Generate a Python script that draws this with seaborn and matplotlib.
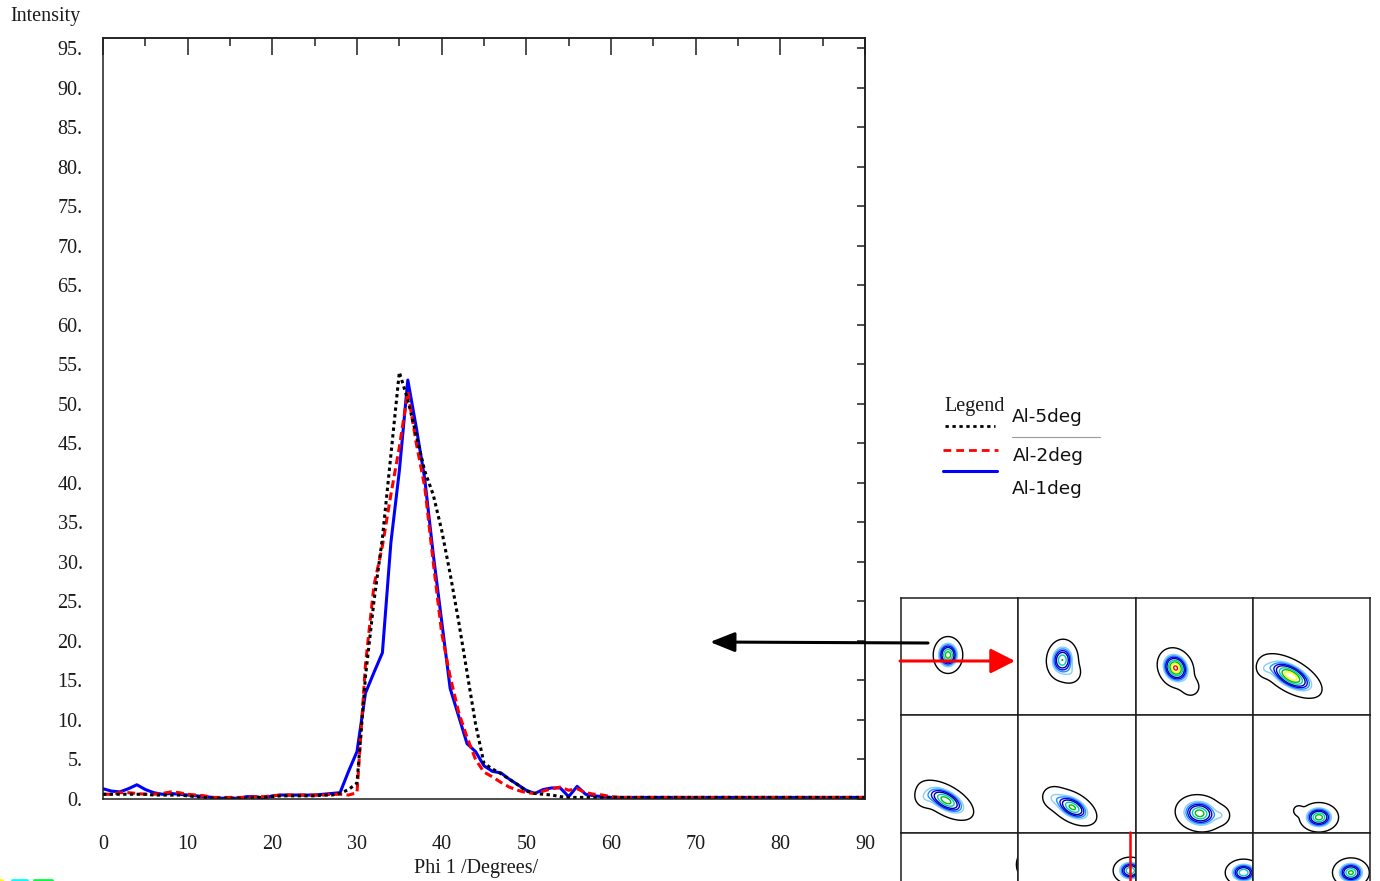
import numpy as np
import pandas as pd
import matplotlib
matplotlib.use("Agg")
import matplotlib.pyplot as plt
import seaborn as sns
from matplotlib.ticker import MultipleLocator, FuncFormatter

# ---- ODF line profile along Phi 1 -------------------------------------
phi1 = list(range(0, 91))

al_5deg = [0.6, 0.6, 0.6, 0.6, 0.6, 0.6, 0.5, 0.5, 0.5, 0.5,
           0.4, 0.3, 0.2, 0.1, 0.1, 0.1, 0.1, 0.1, 0.2, 0.2,
           0.3, 0.4, 0.4, 0.4, 0.4, 0.4, 0.5, 0.5, 0.7, 1.2,
           2.0, 15.5, 25.0, 33.0, 43.5, 54.0, 50.5, 46.0, 41.5, 38.5,
           34.0, 28.5, 22.5, 16.0, 9.5, 4.5, 3.8, 3.2, 2.5, 1.8,
           1.0, 0.7, 0.6, 0.5, 0.3, 0.2, 0.2, 0.2, 0.2, 0.2] + [0.2] * 31

al_2deg = [0.6, 0.6, 0.8, 0.8, 0.7, 0.6, 0.6, 0.7, 0.9, 0.8,
           0.6, 0.5, 0.4, 0.2, 0.2, 0.2, 0.2, 0.2, 0.3, 0.3,
           0.4, 0.5, 0.5, 0.5, 0.5, 0.5, 0.5, 0.6, 0.6, 0.5,
           0.8, 17.0, 27.0, 32.0, 38.5, 44.5, 51.5, 45.0, 39.5, 30.0,
           21.0, 15.5, 11.0, 7.8, 5.0, 3.4, 2.8, 2.1, 1.5, 1.1,
           0.8, 0.7, 1.0, 1.3, 1.5, 1.1, 1.3, 0.8, 0.6, 0.5,
           0.3] + [0.2] * 30

al_1deg = [1.3, 1.0, 0.9, 1.3, 1.8, 1.2, 0.8, 0.6, 0.7, 0.6,
           0.5, 0.4, 0.3, 0.2, 0.1, 0.1, 0.1, 0.3, 0.3, 0.1,
           0.4, 0.5, 0.5, 0.5, 0.5, 0.5, 0.6, 0.7, 0.8, 3.5,
           6.0, 13.4, 16.0, 18.5, 32.4, 41.5, 53.0, 47.0, 40.5, 31.0,
           22.5, 14.0, 10.5, 7.0, 6.0, 4.2, 3.5, 3.3, 2.5, 1.8,
           1.1, 0.7, 1.2, 1.4, 1.4, 0.3, 1.6, 0.6, 0.4, 0.3] + [0.2] * 31

series_names = ["Al-1deg", "Al-2deg", "Al-5deg"]
series_colors = {"Al-5deg": "#000000", "Al-2deg": "#ff0000", "Al-1deg": "#0000ff"}
series_dashes = {"Al-5deg": (1.1, 1.1), "Al-2deg": (2.6, 1.4), "Al-1deg": ""}

y_ticks = list(range(0, 100, 5))
x_ticks = list(range(0, 100, 10))

# ---- ODF sections (phi2 slices), one texture peak per cell --------------
blob_x = [47, 44, 40, 38, 45, 54, 64, 66, 126, 112, 108, 98]
blob_y = [57, 62, 70, 78, 85, 92, 98, 102, 32, 38, 40, 40]
blob_major = [15, 17, 17, 28, 25, 22, 20, 16, 12, 14, 15, 15]
blob_minor = [12, 13, 14, 13, 12, 12, 15, 12, 9, 11, 11, 12]
blob_angle = [90, 95, 60, 30, 30, 30, 10, 0, 90, 0, 0, 0]
blob_peak = [7, 6, 9.5, 9, 7, 6.5, 7, 7, 0, 6, 6, 6.5]
# secondary shoulder of each peak (offset from centre, width, height)
lobe_dx = [0, 10, 16, -26, -22, -20, 22, -21, 0, 0, 0, 0]
lobe_dy = [0, 14, 20, -7, -2, -10, 2, -7, 0, 0, 0, 0]
lobe_sigma = [1, 6, 6, 5, 6, 6, 5, 3, 1, 1, 1, 1]
lobe_amp = [0, 1.2, 1.3, 1.3, 1.3, 1.2, 1.3, 1.4, 0, 0, 0, 0]

contour_levels = [1, 2.5, 3.2, 4, 5, 6.5, 8, 9.5, 11]
contour_colors = ["#000000", "#87cefa", "#1e90ff", "#0000ff", "#00008b",
                  "#00c8c8", "#00c000", "#ffff00", "#ff0000"]

sns.set_style("white")
plt.rcParams["font.family"] = ["Liberation Serif", "DejaVu Serif"]

W, H = 1380, 881
fig = plt.figure(figsize=(W / 100, H / 100), dpi=100)


def px_rect(x0, y0, x1, y1):
    return [x0 / W, 1 - y1 / H, (x1 - x0) / W, (y1 - y0) / H]


TXT = "#1a1a1a"
AX = "#1e1e1e"
FS = 14.5

# ---- main line chart ----------------------------------------------------
ax = fig.add_axes(px_rect(103, 38, 865, 799))
df = pd.DataFrame({
    "phi1": phi1 * 3,
    "intensity": al_1deg + al_2deg + al_5deg,
    "sample": [n for n in series_names for _ in phi1],
})
sns.lineplot(data=df, x="phi1", y="intensity", hue="sample", style="sample",
             hue_order=series_names, style_order=series_names,
             palette=series_colors, dashes=series_dashes,
             linewidth=2.2, estimator=None, sort=False, legend=False, ax=ax)

ax.set_xlim(0, 90)
ax.set_ylim(0, 96.27)
ax.xaxis.set_minor_locator(MultipleLocator(5))
ax.set_yticks(y_ticks)
ax.yaxis.set_major_formatter(FuncFormatter(lambda v, p: f"{int(round(v))}."))
ax.set_xticks(x_ticks)
ax.set_xticklabels([str(t) for t in x_ticks])
ax.set_xlabel("Phi 1 /Degrees/", fontsize=FS, color=TXT)
ax.xaxis.set_label_coords((476 - 103) / 762, (799 - 859) / 761)
ax.set_ylabel("")
for s in ax.spines.values():
    s.set_color(AX)
    s.set_linewidth(1.1)
ax.tick_params(axis="x", which="major", direction="out", length=9.4, width=1.1,
               pad=16.5, labelsize=FS, colors=AX, labelcolor=TXT)
ax.tick_params(axis="x", which="minor", direction="out", length=4.5, width=1.1,
               colors=AX)
ax.tick_params(axis="y", which="major", direction="out", length=4.5, width=1.1,
               pad=10, labelsize=FS, colors=AX, labelcolor=TXT)

top = ax.secondary_xaxis("top")
top.xaxis.set_major_locator(MultipleLocator(10))
top.xaxis.set_minor_locator(MultipleLocator(5))
top.tick_params(which="major", direction="in", length=12, width=1.1,
                labeltop=False, colors=AX)
top.tick_params(which="minor", direction="in", length=5.8, width=1.1,
                colors=AX)
top.spines["top"].set_linewidth(1.1)
top.spines["top"].set_color(AX)

right = ax.secondary_yaxis("right")
right.set_yticks(y_ticks)
right.tick_params(direction="in", length=5.8, width=1.1, labelright=False,
                  colors=AX)
right.spines["right"].set_linewidth(1.1)
right.spines["right"].set_color(AX)

fig.text(10 / W, 1 - 17 / H, "Intensity", fontsize=FS, ha="left",
         va="center", color=TXT)

# ---- grid of ODF sections ----------------------------------------------
cell = 117.3
gx = np.linspace(0, cell, 260)
GX, GY = np.meshgrid(gx, gx)
for k in range(12):
    r, c = divmod(k, 4)
    x0 = 901 + c * cell
    y0 = 598 + r * cell
    cax = fig.add_axes(px_rect(x0, y0, x0 + cell, y0 + cell))
    th = np.deg2rad(blob_angle[k])
    dx, dy = GX - blob_x[k], GY - blob_y[k]
    u = dx * np.cos(th) + dy * np.sin(th)
    v = -dx * np.sin(th) + dy * np.cos(th)
    sa, sb = blob_major[k], blob_minor[k]
    halo = 2.0 * np.exp(-0.5 * ((u / sa) ** 2 + (v / sb) ** 2))
    core = blob_peak[k] * np.exp(-0.5 * ((u / (0.4 * sa)) ** 2 + (v / (0.4 * sb)) ** 2))
    lx, ly = dx - lobe_dx[k], dy - lobe_dy[k]
    lobe = lobe_amp[k] * np.exp(-0.5 * (lx ** 2 + ly ** 2) / lobe_sigma[k] ** 2)
    cax.contour(GX, GY, halo + core + lobe, levels=contour_levels,
                colors=contour_colors, linewidths=1.0)
    cax.set_xlim(0, cell)
    cax.set_ylim(cell, 0)
    cax.set_xticks([])
    cax.set_yticks([])
    for s in cax.spines.values():
        s.set_color(AX)
        s.set_linewidth(1.1)

# ---- annotations and legend drawn in pixel space -----------------------
ov = fig.add_axes([0, 0, 1, 1], facecolor="none")
ov.set_xlim(0, W)
ov.set_ylim(H, 0)
ov.axis("off")

ov.annotate("", xy=(710, 642), xytext=(928, 643),
            arrowprops=dict(arrowstyle="-|>,head_length=0.75,head_width=0.3",
                            color="black", lw=2.2, mutation_scale=20,
                            shrinkA=0, shrinkB=0))
ov.annotate("", xy=(1015, 661), xytext=(900, 661),
            arrowprops=dict(arrowstyle="-|>,head_length=0.75,head_width=0.38",
                            color="#ff0000", lw=2.2, mutation_scale=20,
                            shrinkA=0, shrinkB=0))
ov.plot([1130, 1130], [832, 881], color="#ff0000", lw=1.8)

ov.text(975, 406, "Legend", fontsize=14.5, ha="center", va="center", color=TXT)
ov.plot([945, 995], [426, 426], color="black", lw=2.0, dashes=(1.2, 1.3))
ov.plot([943, 998], [450, 450], color="#ff0000", lw=2.0, dashes=(2.8, 1.8))
ov.plot([943, 997], [471, 471], color="#0000ff", lw=2.2)
ov.plot([1012, 1100], [437, 437], color="#999999", lw=0.8)
legend_sans = ["DejaVu Sans"]
ov.text(1012, 417, "Al-5deg", fontsize=13.3, family=legend_sans, ha="left",
        va="center", color="#111111")
ov.text(1013, 456, "Al-2deg", fontsize=13.3, family=legend_sans, ha="left",
        va="center", color="#111111")
ov.text(1012, 489, "Al-1deg", fontsize=13.3, family=legend_sans, ha="left",
        va="center", color="#111111")

ov.plot([0, 2], [880, 880], color="#ffff00", lw=2)
ov.plot([12, 27], [880, 880], color="#00ffff", lw=2)
ov.plot([34, 52], [880, 880], color="#00ff40", lw=2)

fig.savefig("out.png", dpi=100)
